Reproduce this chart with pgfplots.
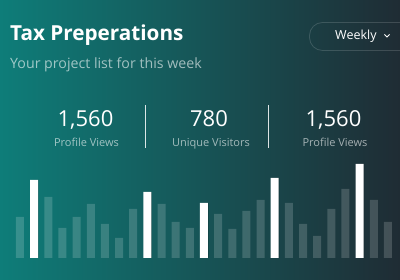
\documentclass[border=0pt]{standalone}
\usepackage{pgfplots}
\pgfplotsset{compat=1.18}
\usepackage{fontspec}
\setmainfont{Open Sans}
\definecolor{bgL}{HTML}{0E7D79}
\definecolor{bgM}{HTML}{145D5F}
\definecolor{bgR}{HTML}{1F2C34}
\begin{document}
\begin{tikzpicture}[x=1pt,y=1pt]
\useasboundingbox (0,0) rectangle (400,280);
\clip (0,0) rectangle (400,280);
\shade[left color=bgL, middle color=bgM, right color=bgR] (0,0) rectangle (400,280);
% header
\node[anchor=base west, inner sep=0, text=white] at (10,239.3) {\fontsize{20.7pt}{24pt}\selectfont\bfseries Tax Preperations};
\node[anchor=base west, inner sep=0, text=white, opacity=0.6] at (10,211.7) {\fontsize{14.2pt}{17pt}\selectfont Your project list for this week};
% weekly button
\draw[white, opacity=0.15, line width=0.8pt, rounded corners=13pt] (309.5,229.5) rectangle (430,257.5);
\node[anchor=base west, inner sep=0, text=white] at (335,240) {\fontsize{12.5pt}{15pt}\selectfont Weekly};
\draw[white, line width=0.9pt] (384.5,245.5) -- (387,243) -- (389.5,245.5);
% stats
\node[anchor=base, inner sep=0, text=white] at (85.5,153.3) {\fontsize{22pt}{26pt}\selectfont 1,560};
\node[anchor=base, inner sep=0, text=white, opacity=0.6] at (86.5,133.3) {\fontsize{11pt}{13pt}\selectfont Profile Views};
\node[anchor=base, inner sep=0, text=white] at (209,153.3) {\fontsize{22pt}{26pt}\selectfont 780};
\node[anchor=base, inner sep=0, text=white, opacity=0.6] at (211,133.3) {\fontsize{11pt}{13pt}\selectfont Unique Visitors};
\node[anchor=base, inner sep=0, text=white] at (333.5,153.3) {\fontsize{22pt}{26pt}\selectfont 1,560};
\node[anchor=base, inner sep=0, text=white, opacity=0.6] at (335,133.3) {\fontsize{11pt}{13pt}\selectfont Profile Views};
\draw[white, opacity=0.85, line width=0.9pt] (145,175) -- (145,132);
\draw[white, opacity=0.85, line width=0.9pt] (268,175) -- (268,132);
\begin{axis}[
  at={(0,22)}, anchor=south west,
  scale only axis, width=400pt, height=100pt,
  xmin=-0.4134, xmax=27.855, ymin=0, ymax=100,
  enlargelimits=false, hide axis, clip=false,
]
\addplot[ybar, bar width=8pt, bar shift=0pt, fill=white, fill opacity=0.17, draw=none] coordinates {
(1,41) (3,61) (4,30) (5,41) (6,54) (7,34) (8,20) (9,49) (11,54) (12,36) (13,30)
(15,44) (16,29) (17,47) (18,58) (20,55) (21,34) (22,22) (23,49) (24,69) (26,58) (27,36)
};
\addplot[ybar, bar width=8pt, bar shift=0.6pt, fill=black, fill opacity=0.25, draw=none] coordinates {
(2,78) (10,66) (14,55) (19,80) (25,94)
};
\addplot[ybar, bar width=8pt, bar shift=0pt, fill=white, draw=none] coordinates {
(2,78) (10,66) (14,55) (19,80) (25,94)
};
\end{axis}
\end{tikzpicture}
\end{document}
